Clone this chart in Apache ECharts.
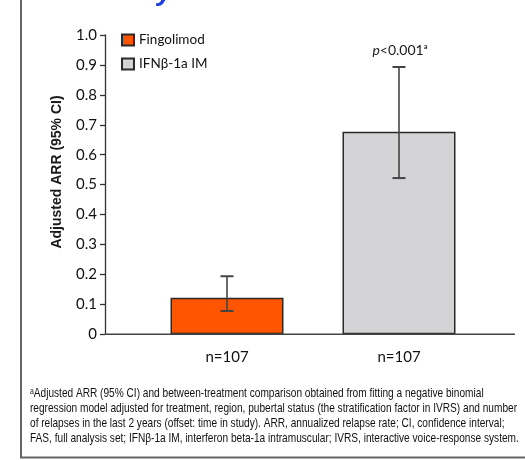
<!DOCTYPE html>
<html>
<head>
<meta charset="utf-8">
<script src="https://cdn.jsdelivr.net/npm/echarts@6/dist/echarts.min.js"></script>
<style>html,body{margin:0;padding:0;background:#fff;}#c{width:525px;height:460px;}</style>
</head>
<body>
<div id="c"></div>
<script>
// ---- data ----
const groups = ['Fingolimod', 'IFNβ-1a IM'];
const nCounts = [107, 107];
const adjustedARR = [0.122, 0.677];
const ciLow = [0.078, 0.522];
const ciHigh = [0.194, 0.893];
const pLabels = ['', 'p<0.001'];
const yMin = 0, yMax = 1.0, yStep = 0.1;
const yTitle = 'Adjusted ARR (95% CI)';
const footnote = [
  'ᵃAdjusted ARR (95% CI) and between-treatment comparison obtained from fitting a negative binomial',
  'regression model adjusted for treatment, region, pubertal status (the stratification factor in IVRS) and number',
  'of relapses in the last 2 years (offset: time in study). ARR, annualized relapse rate; CI, confidence interval;',
  'FAS, full analysis set; IFNβ-1a IM, interferon beta-1a intramuscular; IVRS, interactive voice-response system.'
];

// ---- styles ----
const fillColors = ['#ff5500', '#d4d4d6'];
const edge = '#2a2a2a';
const sansFont = 'Lato, "Liberation Sans", sans-serif';
const noteFont = '"Liberation Sans Narrow", "Liberation Sans", sans-serif';

const chart = echarts.init(document.getElementById('c'), null, {renderer: 'canvas'});

const barSeries = groups.map((g, i) => ({
  name: g,
  type: 'bar',
  barWidth: 113,
  barGap: '-100%',
  data: groups.map((_, j) => (j === i ? adjustedARR[j] : '-')),
  itemStyle: {color: fillColors[i], borderColor: edge, borderWidth: 1.5},
  z: 2
}));

const errSeries = {
  type: 'custom',
  name: 'CI',
  data: groups.map((_, i) => [i, ciLow[i], ciHigh[i]]),
  encode: {x: 0, y: [1, 2]},
  z: 5,
  renderItem: function (params, api) {
    const idx = params.dataIndex;
    const lo = api.coord([api.value(0), api.value(1)]);
    const hi = api.coord([api.value(0), api.value(2)]);
    const x = lo[0];
    const cap = 6.5;
    const children = [
      {type: 'line', shape: {x1: x, y1: lo[1], x2: x, y2: hi[1]}, style: {stroke: '#444', lineWidth: 1.6}},
      {type: 'line', shape: {x1: x - cap, y1: lo[1], x2: x + cap, y2: lo[1]}, style: {stroke: '#444', lineWidth: 2}},
      {type: 'line', shape: {x1: x - cap, y1: hi[1], x2: x + cap, y2: hi[1]}, style: {stroke: '#444', lineWidth: 2}}
    ];
    if (pLabels[idx]) {
      const txt = pLabels[idx].replace(/^p/, '{i|p}') + 'ᵃ';
      children.push({
        type: 'text',
        style: {
          text: txt, x: x + 1, y: hi[1] - 17, align: 'center', verticalAlign: 'middle',
          font: '14px ' + sansFont, fill: '#1a1a1a',
          rich: {i: {fontStyle: 'italic', fontSize: 14, fontFamily: sansFont, color: '#1a1a1a'}}
        }
      });
    }
    return {type: 'group', children: children};
  }
};

chart.setOption({
  animation: false,
  backgroundColor: '#fff',
  grid: {left: 141, right: 40, top: 35, bottom: 125.7},
  legend: {
    data: groups,
    orient: 'vertical',
    left: 121, top: 33,
    padding: 0,
    itemWidth: 12, itemHeight: 11, itemGap: 10,
    icon: 'rect',
    textStyle: {fontSize: 13.5, fontFamily: sansFont, color: '#111'},
    selectedMode: false
  },
  xAxis: {
    type: 'category',
    data: groups,
    axisLine: {show: false},
    axisTick: {show: false},
    axisLabel: {
      margin: 15, fontSize: 15, fontFamily: sansFont, color: '#111',
      formatter: function (v, i) { return 'n=' + nCounts[i]; }
    }
  },
  yAxis: {
    type: 'value',
    min: yMin, max: yMax, interval: yStep,
    offset: 36,
    splitLine: {show: false},
    axisLine: {show: true, lineStyle: {color: '#333', width: 1.3}},
    axisTick: {show: true, length: 5, lineStyle: {color: '#333', width: 1.3}},
    axisLabel: {
      margin: 8, fontSize: 15, fontFamily: sansFont, color: '#111',
      formatter: function (v) { return v === 0 ? '0' : v.toFixed(1); }
    }
  },
  series: barSeries.concat([errSeries])
});

// ---- annotations: baseline, y title, frame, footnote ----
const y0 = chart.convertToPixel({yAxisIndex: 0}, 0);
const ctx = document.createElement('canvas').getContext('2d');
ctx.font = '13px ' + noteFont;
const refW = ctx.measureText(footnote[1]).width;
const sx = 487 / refW;
const noteY = [393, 408, 423, 438];

const graphics = [
  {type: 'line', shape: {x1: 105, y1: y0, x2: 515, y2: y0}, style: {stroke: '#444', lineWidth: 1.5}, z: 10},
  {type: 'text', x: 57, y: 172, rotation: Math.PI / 2,
    style: {text: yTitle, font: 'bold 14px "Liberation Sans", Arial, sans-serif', fill: '#1a1a1a', align: 'center', verticalAlign: 'middle'}},
  {type: 'line', shape: {x1: 21, y1: 0, x2: 21, y2: 458}, style: {stroke: '#666', lineWidth: 2}},
  {type: 'line', shape: {x1: 20, y1: 457.5, x2: 525, y2: 457.5}, style: {stroke: '#666', lineWidth: 2}},
  {type: 'text', x: 157, y: -22,
    style: {text: 'y', font: 'bold italic 28px "Liberation Sans", Arial, sans-serif', fill: '#1f3fe0', align: 'left', verticalAlign: 'top'}}
];
footnote.forEach((line, i) => {
  graphics.push({
    type: 'text', x: 30, y: noteY[i], scaleX: sx, originX: 0, originY: 0,
    style: {text: line, font: '13px ' + noteFont, fill: '#111', align: 'left', verticalAlign: 'middle'}
  });
});
chart.setOption({graphic: graphics});
</script>
</body>
</html>
